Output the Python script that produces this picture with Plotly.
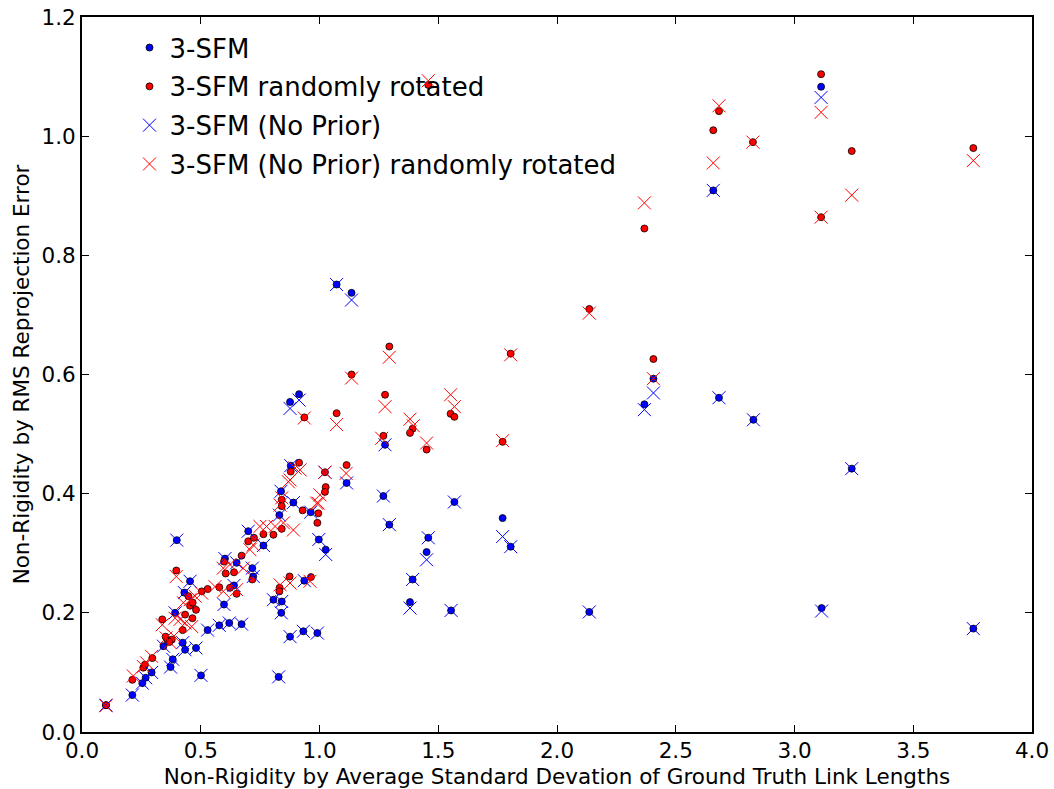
import plotly.graph_objects as go

# 3-SFM (blue dots)
sfm_x = [0.101,0.212,0.254,0.268,0.293,0.373,0.382,0.343,0.399,0.392,0.455,0.431,0.424,0.434,0.480,0.501,0.529,0.578,0.620,0.672,
         0.598,0.640,0.602,0.651,0.717,0.721,0.700,0.764,0.838,0.831,0.890,0.963,0.997,1.026,0.936,0.806,0.841,0.839,0.876,0.932,
         0.991,0.828,0.914,0.876,1.276,0.879,1.114,1.269,1.294,1.458,1.072,1.135,1.568,1.771,1.805,1.451,1.392,1.381,1.554,2.136,
         2.406,2.368,2.682,2.827,3.114,3.112,2.658,3.241,3.753]
sfm_y = [0.045,0.062,0.082,0.091,0.100,0.109,0.122,0.144,0.322,0.200,0.253,0.234,0.150,0.138,0.141,0.095,0.171,0.179,0.183,0.181,
         0.214,0.246,0.291,0.284,0.275,0.261,0.337,0.313,0.404,0.364,0.385,0.369,0.323,0.306,0.254,0.222,0.219,0.200,0.160,0.169,
         0.166,0.0925,0.567,0.554,0.482,0.447,0.418,0.396,0.348,0.326,0.751,0.737,0.386,0.359,0.311,0.302,0.256,0.218,0.204,0.2015,
         0.593,0.550,0.561,0.524,0.208,1.083,0.909,0.442,0.1735]

# 3-SFM randomly rotated (red dots)
rot_x = [0.101,0.212,0.258,0.265,0.296,0.338,0.352,0.361,0.378,0.368,0.397,0.434,0.465,0.424,0.448,0.455,0.480,0.504,0.529,0.578,
         0.605,0.640,0.651,0.623,0.598,0.672,0.717,0.700,0.724,0.764,0.806,0.841,0.841,0.841,0.929,0.995,0.991,1.026,1.023,0.874,
         0.832,0.831,0.964,0.936,1.072,1.135,1.276,1.269,1.392,1.381,1.451,0.914,0.879,1.023,1.114,1.294,1.805,1.552,1.568,1.771,
         2.136,2.406,3.112,2.682,2.658,2.825,3.241,3.112,3.753,2.368,1.458,0.466]
rot_y = [0.045,0.0875,0.108,0.113,0.124,0.189,0.160,0.153,0.155,0.151,0.271,0.197,0.191,0.171,0.228,0.212,0.205,0.236,0.240,0.243,
         0.266,0.268,0.232,0.242,0.286,0.296,0.256,0.320,0.326,0.332,0.331,0.341,0.390,0.379,0.372,0.367,0.351,0.411,0.403,0.261,
         0.242,0.236,0.260,0.528,0.535,0.600,0.566,0.497,0.509,0.502,0.474,0.452,0.437,0.436,0.448,0.647,0.635,0.534,0.529,0.487,
         0.710,0.626,1.104,1.042,1.010,0.990,0.975,0.864,0.980,0.845,1.086,0.217]

# 3-SFM (No Prior) (blue crosses)
np_x = [0.101,0.212,0.254,0.268,0.293,0.373,0.382,0.343,0.399,0.392,0.455,0.431,0.424,0.434,0.480,0.501,0.529,0.578,0.620,0.672,
        0.598,0.640,0.602,0.651,0.717,0.721,0.700,0.764,0.838,0.831,0.890,0.963,0.997,1.026,0.936,0.806,0.841,0.839,0.876,0.932,
        0.991,0.828,0.914,0.876,1.276,0.879,1.114,1.269,1.294,1.458,1.072,1.135,1.568,1.771,1.805,1.451,1.392,1.381,1.554,2.136,
        2.406,2.368,2.682,2.827,3.114,3.112,2.658,3.241,3.753,1.023]
np_y = [0.045,0.062,0.082,0.091,0.100,0.109,0.122,0.144,0.322,0.200,0.253,0.234,0.150,0.138,0.141,0.095,0.171,0.179,0.183,0.181,
        0.214,0.246,0.291,0.284,0.275,0.261,0.337,0.313,0.404,0.364,0.385,0.369,0.323,0.298,0.254,0.222,0.219,0.200,0.160,0.169,
        0.166,0.0925,0.557,0.543,0.482,0.447,0.418,0.396,0.348,0.326,0.751,0.725,0.386,0.328,0.311,0.289,0.256,0.208,0.204,0.2015,
        0.569,0.541,0.561,0.524,0.203,1.065,0.909,0.442,0.1735,0.436]

# 3-SFM (No Prior) randomly rotated (red crosses)
nprot_x = [0.101,0.216,0.258,0.272,0.293,0.338,0.354,0.371,0.387,0.397,0.392,0.413,0.434,0.462,0.427,0.455,0.476,0.504,0.560,0.595,
           0.651,0.595,0.623,0.679,0.707,0.721,0.749,0.777,0.813,0.848,0.890,0.834,0.869,0.988,1.002,0.834,0.876,0.960,1.135,1.276,
           1.072,0.936,1.294,1.381,1.395,1.451,1.262,0.876,0.897,0.918,1.023,1.112,0.995,0.841,1.552,1.568,1.805,1.771,2.136,2.406,
           1.458,2.682,2.658,2.825,3.112,3.112,3.241,3.753,2.368]
nprot_y = [0.044,0.094,0.110,0.116,0.127,0.180,0.158,0.150,0.161,0.261,0.191,0.189,0.183,0.177,0.217,0.222,0.228,0.233,0.244,0.236,
           0.239,0.275,0.281,0.275,0.306,0.314,0.345,0.345,0.345,0.351,0.339,0.381,0.420,0.384,0.398,0.247,0.250,0.253,0.594,0.546,
           0.516,0.527,0.629,0.525,0.514,0.485,0.493,0.423,0.443,0.440,0.436,0.434,0.384,0.393,0.566,0.546,0.633,0.489,0.703,0.593,
           1.093,1.051,0.955,0.990,1.040,0.864,0.901,0.959,0.888]

x_ticks = [0.0, 0.5, 1.0, 1.5, 2.0, 2.5, 3.0, 3.5, 4.0]
y_ticks = [0.0, 0.2, 0.4, 0.6, 0.8, 1.0, 1.2]

FONT = "DejaVu Sans"
LABEL_SIZE = 21.5
LEGEND_SIZE = 26

fig = go.Figure()
fig.add_trace(go.Scatter(x=sfm_x, y=sfm_y, mode="markers", name="3-SFM", legendgroup="a",
                         marker=dict(symbol="circle", size=7, color="#0000ff", line=dict(color="black", width=0.8))))
fig.add_trace(go.Scatter(x=rot_x, y=rot_y, mode="markers", name="3-SFM randomly rotated", legendgroup="b",
                         marker=dict(symbol="circle", size=7, color="#ff0000", line=dict(color="black", width=0.8))))
fig.add_trace(go.Scatter(x=np_x, y=np_y, mode="markers", name="3-SFM (No Prior)", legendgroup="c",
                         marker=dict(symbol="x-thin-open", size=13, color="#0000ff", line=dict(color="#0000ff", width=1))))
fig.add_trace(go.Scatter(x=nprot_x, y=nprot_y, mode="markers", name="3-SFM (No Prior) randomly rotated", legendgroup="d",
                         marker=dict(symbol="x-thin-open", size=13, color="#ff0000", line=dict(color="#ff0000", width=1))))

axis_common = dict(showline=True, linecolor="black", linewidth=1.8, mirror="allticks", ticks="inside",
                   ticklen=7, tickwidth=1, tickcolor="black", showgrid=False, zeroline=False, automargin=False,
                   tickfont=dict(family=FONT, size=LABEL_SIZE, color="black"))

fig.update_layout(
    width=1054, height=789,
    margin=dict(l=82, r=22, t=17, b=57),
    paper_bgcolor="white", plot_bgcolor="white",
    font=dict(family=FONT, color="black"),
    xaxis=dict(range=[0, 4.0], tickvals=x_ticks, tickformat=".1f", ticklabelstandoff=-2,
               title=dict(text="Non-Rigidity by Average Standard Devation of Ground Truth Link Lengths",
                          font=dict(family=FONT, size=LABEL_SIZE), standoff=8), **axis_common),
    yaxis=dict(range=[0, 1.2], tickvals=y_ticks, tickformat=".1f", ticklabelstandoff=0,
               title=dict(text="Non-Rigidity by RMS Reprojection Error",
                          font=dict(family=FONT, size=LABEL_SIZE), standoff=6), **axis_common),
    legend=dict(x=0.05, y=0.99, xanchor="left", yanchor="top", bgcolor="rgba(0,0,0,0)",
                font=dict(family=FONT, size=LEGEND_SIZE), traceorder="grouped", tracegroupgap=2,
                itemsizing="trace"),
)

fig.write_html("out.html", config={"displayModeBar": False},
               post_script="document.body.style.margin='0';document.body.style.padding='0';")
